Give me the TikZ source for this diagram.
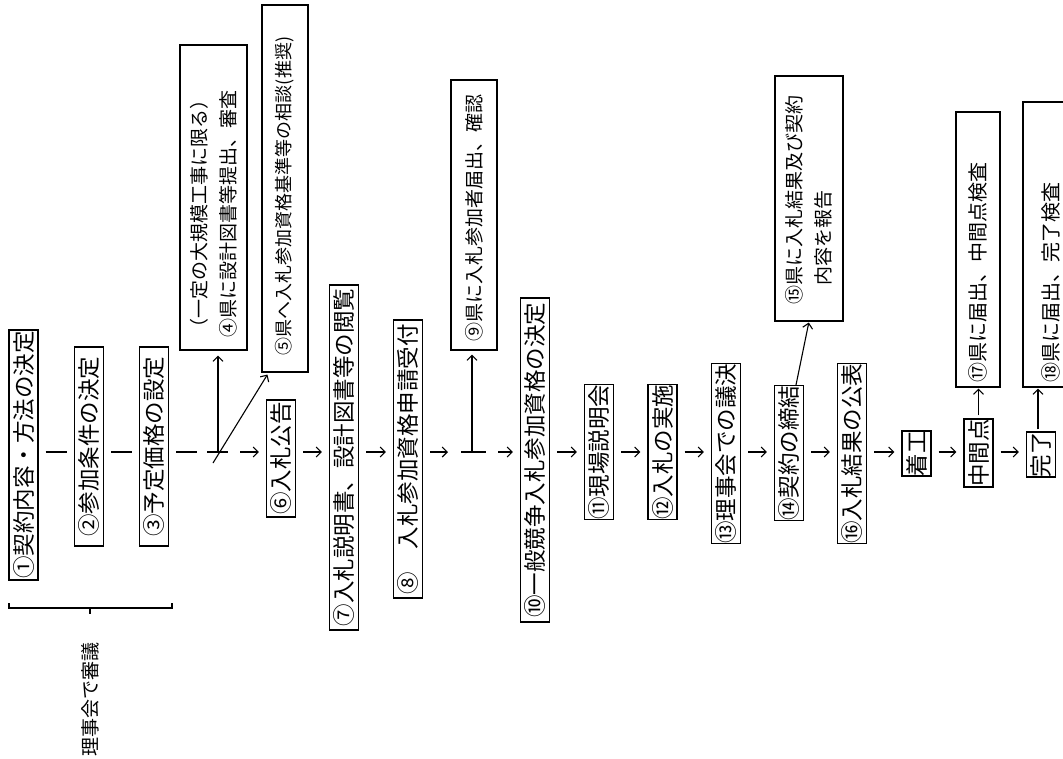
\documentclass[tikz,border=0pt]{standalone}
\usepackage{fontspec}
\setmainfont{Noto Sans CJK JP}
\usetikzlibrary{arrows.meta,calc}
\begin{document}
\begin{tikzpicture}[x=1pt,y=-1pt,
  box/.style={draw, line width=1.1pt, rotate=90, inner sep=0pt, minimum height=29pt,
    font=\fontsize{22.5}{27}\selectfont},
  note/.style={draw, line width=1.1pt, rotate=90, inner ysep=0pt, align=left,
    font=\fontsize{19}{29}\selectfont},
  flow/.style={line width=1.1pt, shorten <=7pt, shorten >=7pt},
  arr/.style={flow, -{Straight Barb[length=5pt,width=10pt]}},
  plain/.style={line width=1.1pt}]
\useasboundingbox (0,0) rectangle (1063,758);
\fill[white] (0,0) rectangle (1063,758);
\clip (0,0) rectangle (1063,758);

% main step boxes
\node[box, minimum width=250pt] (p1) at (23.5,455) {①契約内容・方法の決定};
\node[box, minimum width=199pt] (p2) at (89,446.5) {②参加条件の決定};
\node[box, minimum width=199pt] (p3) at (154,446.5) {③予定価格の設定};
\node[box, minimum width=117pt] (p6) at (281,458.5) {⑥入札公告};
\node[box, minimum width=345pt] (p7) at (344,457.5) {⑦入札説明書、設計図書等の閲覧};
\node[box, minimum width=278pt] (p8) at (408,459) {⑧　入札参加資格申請受付};
\node[box, minimum width=324pt] (p10) at (535,460) {⑩一般競争入札参加資格の決定};
\node[box, minimum width=132pt] (p11) at (599,452) {⑪現場説明会};
\node[box, minimum width=132pt] (p12) at (662.5,452) {⑫入札の実施};
\node[box, minimum width=177pt] (p13) at (726,453.5) {⑬理事会での議決};
\node[box, minimum width=132pt] (p14) at (789,453) {⑭契約の締結};
\node[box, minimum width=177pt] (p16) at (852,453.5) {⑯入札結果の公表};
\node[box, minimum width=45pt] (pc) at (916.5,453.5) {着工};
\node[box, minimum width=68pt] (pm) at (978.5,453) {中間点};
\node[box, minimum width=45pt] (pk) at (1041,454.5) {完了};

% side note boxes
\node[note, minimum height=67pt, text width=279pt, inner xsep=13pt] (p4) at (213.5,197.5)
  {（一定の大規模工事に限る）\\④県に設計図書等提出、審査};
\node[note, font=\fontsize{18}{29}\selectfont, minimum height=46pt, text width=333pt, inner xsep=17pt] (p5) at (285,188.5)
  {⑤県へ入札参加資格基準等の相談(推奨)};
\node[note, minimum height=46pt, text width=252pt, inner xsep=9pt] (p9) at (474,215)
  {⑨県に入札参加者届出、確認};
\node[note, minimum height=68pt, text width=211pt, inner xsep=17pt] (p15) at (809,198.5)
  {⑮県に入札結果及び契約\\\hspace*{19pt}内容を報告};
\node[note, font=\fontsize{20}{29}\selectfont, minimum height=44pt, text width=265pt, inner xsep=5pt] (p17) at (978,249.5)
  {⑰県に届出、中間点検査};
\node[note, font=\fontsize{20}{29}\selectfont, minimum height=55pt, text width=275pt, inner xsep=5pt] (p18) at (1050.5,244.5)
  {⑱県に届出、完了検査};

% bracket and its label
\coordinate (bl) at (9,608);
\coordinate (br) at (172,608);
\coordinate (bc) at (90,608);
\draw[plain] ($(bl)+(0,-5)$) -- (bl) -- (br) -- ($(br)+(0,-5)$);
\draw[plain] (bc) -- ($(bc)+(0,6)$);
\node[rotate=90, inner sep=0pt, font=\fontsize{19}{19}\selectfont] (lbl) at (90,699) {理事会で審議};

% main flow line
\coordinate (m) at (0,452);
\draw[flow] (p1.south |- m) -- (p2.north |- m);
\draw[flow] (p2.south |- m) -- (p3.north |- m);

\coordinate (j4) at (218,452);
\coordinate (d5) at (213,463);
\draw[plain, shorten <=7pt] (p3.south |- m) -- ($(j4)+(-21,0)$);
\draw[plain] ($(j4)+(-11,0)$) -- ($(j4)+(10,0)$);
\draw[arr, shorten <=0pt] ($(j4)+(22,0)$) -- (p6.north |- m);
\draw[arr, shorten <=0pt, shorten >=5pt] (j4) -- (p4.west -| j4);
\draw[arr, shorten <=0pt, shorten >=0pt] (d5) -- ($(p5.north west)+(6,2)$);

\draw[arr] (p6.south |- m) -- (p7.north |- m);
\draw[arr] (p7.south |- m) -- (p8.north |- m);

\coordinate (j9) at (472,452);
\draw[arr, shorten >=0pt] (p8.south |- m) -- ($(j9)+(-24,0)$);
\draw[plain] ($(j9)+(-11,0)$) -- ($(j9)+(14,0)$);
\draw[arr, shorten <=0pt] ($(j9)+(26,0)$) -- (p10.north |- m);
\draw[arr, shorten <=0pt, shorten >=4pt] (j9) -- (p9.west -| j9);

\draw[arr] (p10.south |- m) -- (p11.north |- m);
\draw[arr] (p11.south |- m) -- (p12.north |- m);
\draw[arr] (p12.south |- m) -- (p13.north |- m);
\draw[arr] (p13.south |- m) -- (p14.north |- m);
\draw[arr] (p14.south |- m) -- (p16.north |- m);
\draw[arr] (p16.south |- m) -- (pc.north |- m);
\draw[arr] (pc.south |- m) -- (pm.north |- m);
\draw[arr] (pm.south |- m) -- (pk.north |- m);

% branches to the notes
\draw[arr, shorten <=0pt, shorten >=1pt] ($(p14.east)+(7,0)$) -- (p15.west);
\draw[arr, shorten <=3pt, shorten >=1pt] (pm.east) -- (p17.west -| pm.east);
\draw[arr, shorten <=2pt, shorten >=1pt] ($(pk.east)+(-3,0)$) coordinate (kt) -- (kt |- p18.west);
\end{tikzpicture}
\end{document}
